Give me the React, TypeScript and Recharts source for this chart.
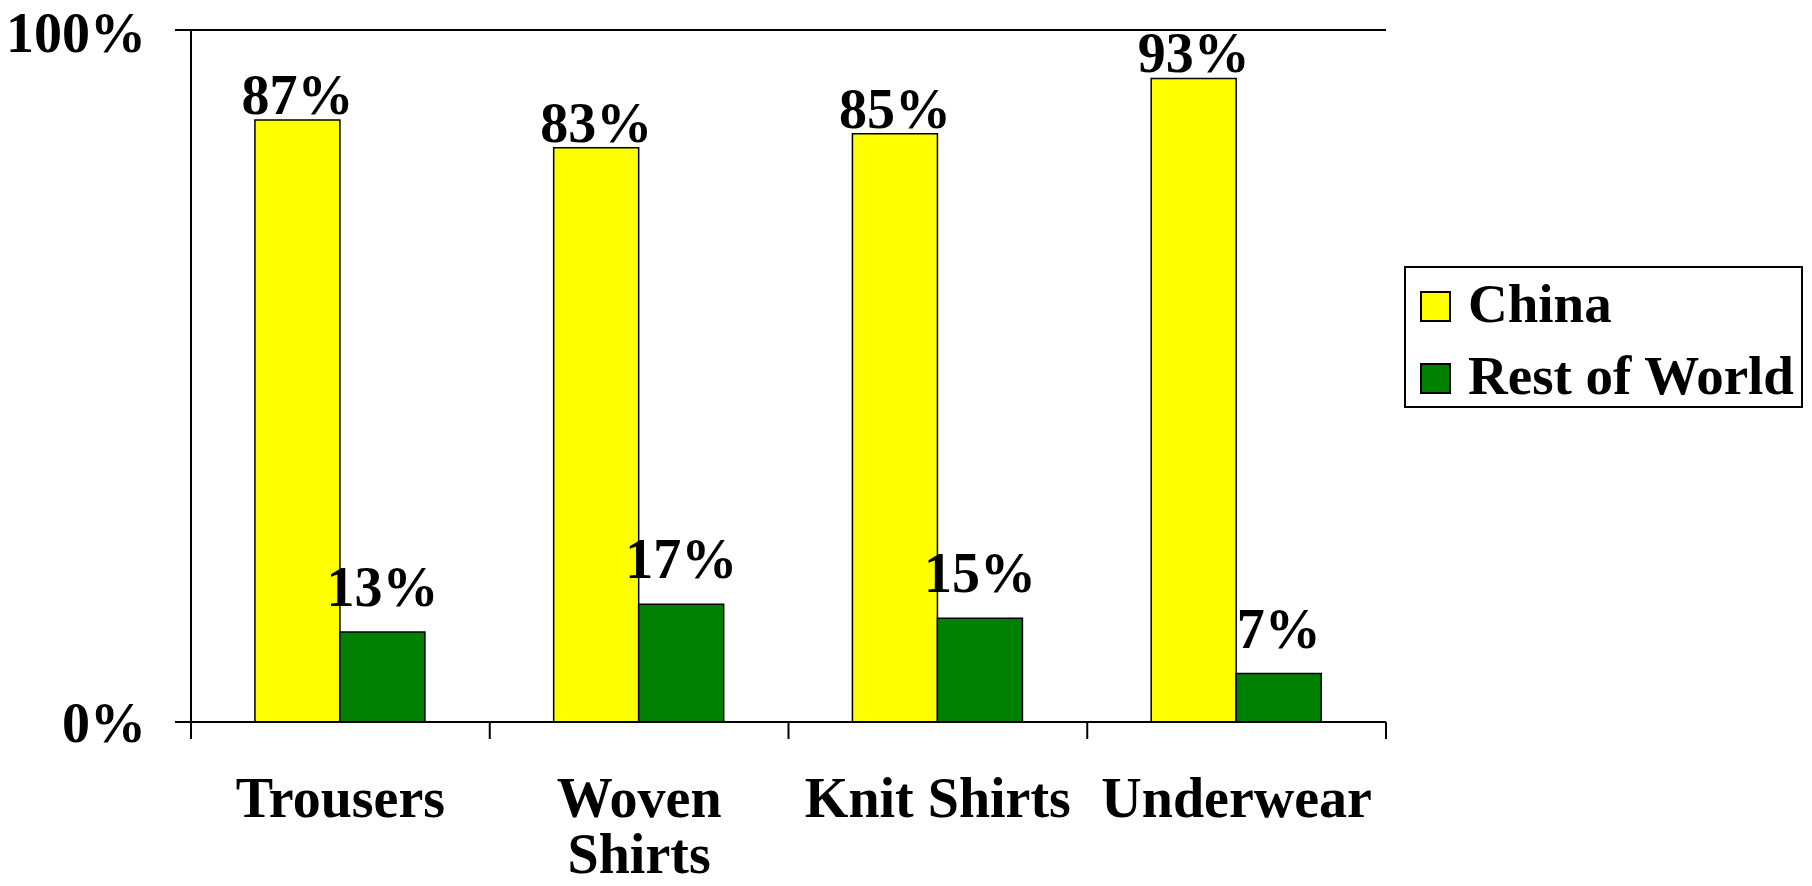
import { BarChart, Bar, XAxis, YAxis, CartesianGrid, Legend, LabelList } from 'recharts';

const categories = ['Trousers', 'Woven Shirts', 'Knit Shirts', 'Underwear'];
const chinaShare = [87, 83, 85, 93];
const restOfWorldShare = [13, 17, 15, 7];
const yTicks = [0, 100];

const series = [
    { key: 'china', name: 'China', color: '#FFFF00', labelOffset: 6 },
    { key: 'rest', name: 'Rest of World', color: '#008000', labelOffset: 26 },
];

const data = categories.map((name, i) => ({
    name,
    china: chinaShare[i],
    rest: restOfWorldShare[i],
}));

const W = 1812;
const H = 886;
const margin = { top: 30, right: 426, bottom: 0, left: 0 };
const yAxisWidth = 191;
const xAxisHeight = 164;
const band = (W - margin.left - margin.right - yAxisWidth) / categories.length;

const fontFamily = '"Liberation Serif", "Times New Roman", serif';
const font = { fontFamily, fontWeight: 'bold' as const, fontSize: 56 };

// greedy word wrap measured with a canvas, like the label wrapping in the original
function wrapLabel(text: string, maxWidth: number): string[] {
    const ctx = document.createElement('canvas').getContext('2d');
    if (!ctx) return [text];
    ctx.font = `bold ${font.fontSize}px ${fontFamily}`;
    const lines: string[] = [];
    let cur = '';
    for (const word of text.split(' ')) {
        const next = cur ? `${cur} ${word}` : word;
        if (cur && ctx.measureText(next).width > maxWidth) {
            lines.push(cur);
            cur = word;
        } else {
            cur = next;
        }
    }
    if (cur) lines.push(cur);
    return lines;
}

function CategoryTick(props: any) {
    const { x, y, payload, index } = props;
    const last = index === categories.length - 1;
    const lines = wrapLabel(String(payload.value), band - 10);
    return (
        <g>
            <line x1={x - band / 2} y1={y} x2={x - band / 2} y2={y + 17} stroke="#000" strokeWidth={2} />
            {last && <line x1={x + band / 2} y1={y} x2={x + band / 2} y2={y + 17} stroke="#000" strokeWidth={2} />}
            <text x={x} y={y + 95} textAnchor="middle" {...font} fill="#000">
                {lines.map((l, i) => (
                    <tspan key={i} x={x} dy={i === 0 ? 0 : 56}>
                        {l}
                    </tspan>
                ))}
            </text>
        </g>
    );
}

function LegendBox() {
    return (
        <div style={{ border: '2px solid #000', width: 399, height: 142, boxSizing: 'border-box', background: '#fff' }}>
            {series.map((s) => (
                <div key={s.key} style={{ display: 'flex', alignItems: 'center', height: 72, lineHeight: '72px', ...font, fontSize: 55, color: '#000' }}>
                    <span
                        style={{
                            display: 'inline-block',
                            width: 31,
                            height: 31,
                            boxSizing: 'border-box',
                            border: '2px solid #000',
                            background: s.color,
                            marginLeft: 14,
                            marginRight: 17,
                            marginTop: 4,
                        }}
                    />
                    <span>{s.name}</span>
                </div>
            ))}
        </div>
    );
}

export default function App() {
    return (
        <div style={{ position: 'absolute', left: 0, top: 0, width: W, height: H, background: '#fff' }}>
            <BarChart width={W} height={H} data={data} margin={margin} barCategoryGap="21.4%" barGap={0}>
                <CartesianGrid vertical={false} stroke="#000" strokeWidth={2} />
                <XAxis
                    dataKey="name"
                    interval={0}
                    height={xAxisHeight}
                    tickLine={false}
                    tickSize={0}
                    tickMargin={0}
                    axisLine={{ stroke: '#000', strokeWidth: 2 }}
                    tick={<CategoryTick />}
                />
                <YAxis
                    domain={[0, 100]}
                    ticks={yTicks}
                    width={yAxisWidth}
                    tickSize={16}
                    tickMargin={29}
                    tickFormatter={(v: number) => `${v}%`}
                    axisLine={{ stroke: '#000', strokeWidth: 2 }}
                    tickLine={{ stroke: '#000', strokeWidth: 2 }}
                    tick={{ ...font, fill: '#000' }}
                />
                <YAxis yAxisId="r" orientation="right" width={0} tick={false} tickLine={false} axisLine={{ stroke: '#000', strokeWidth: 2 }} />
                <Legend
                    layout="vertical"
                    align="center"
                    verticalAlign="middle"
                    wrapperStyle={{ left: 1404, top: 266, width: 399, height: 142 }}
                    content={() => <LegendBox />}
                />
                {series.map((s) => (
                    <Bar key={s.key} dataKey={s.key} name={s.name} fill={s.color} stroke="#000" strokeWidth={1.5} isAnimationActive={false}>
                        <LabelList
                            dataKey={s.key}
                            position="top"
                            offset={s.labelOffset}
                            formatter={(v: any) => `${v}%`}
                            style={font}
                            {...font}
                            fill="#000"
                        />
                    </Bar>
                ))}
            </BarChart>
        </div>
    );
}
